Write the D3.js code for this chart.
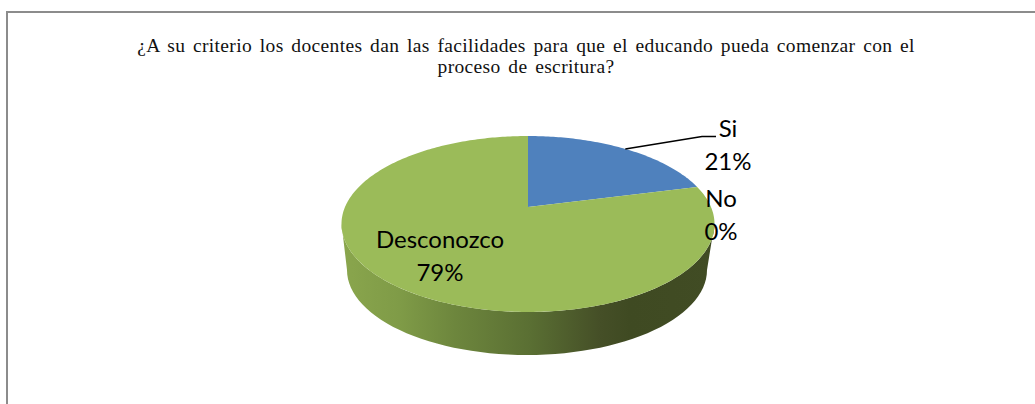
<!DOCTYPE html>
<html>
<head>
<meta charset="utf-8">
<script src="https://cdn.jsdelivr.net/npm/d3@7"></script>
<style>
  html, body { margin: 0; padding: 0; background: #fff; }
  svg { display: block; }
</style>
</head>
<body>
<script>
/* ---------------------------- */
/* DATA                         */
/* ---------------------------- */

const categories = ["Si", "No", "Desconozco"];
const values = [21, 0, 79];
const colors = ["#4f81bd", "#c0504d", "#9bbb59"];
const titleLines = [
    "¿A su criterio los docentes dan las facilidades para que el educando pueda comenzar con el",
    "proceso de escritura?"
];

/* ---------------------------- */
/* CANVAS                       */
/* ---------------------------- */

const w = 1035, h = 404;

let svg = d3.select("body").append("svg")
    .attr("width", w)
    .attr("height", h);

// Frame: only left and top are inside the crop
svg.append("path")
    .attr("d", "M7,404V12H1035")
    .attr("fill", "none")
    .attr("stroke", "#8c8c8c")
    .attr("stroke-width", 2);

svg.selectAll(".title")
    .data(titleLines)
    .enter()
    .append("text")
        .attr("class", "title")
        .attr("x", 526)
        .attr("y", (d, i) => 51.5 + i * 21.7)
        .attr("text-anchor", "middle")
        .attr("font-family", "'Liberation Serif'")
        .attr("font-size", "19.5px")
        .attr("letter-spacing", "0.35px")
        .attr("word-spacing", "2.5px")
        .attr("fill", "#111")
        .text((d) => d);

/* ---------------------------- */
/* PIE                          */
/* ---------------------------- */

// Scales from the unit disc to the page, the depth of the tilted disc comes from k
const k = 0.193;
const x = d3.scaleLinear().domain([-1, 1]).range([528 - 183, 528 + 183]);
const y = d3.scaleLinear().domain([-1, 1]).range([207 - 84.7, 207 + 84.7]);

function project(angle, r) {
    const ux = r * Math.sin(angle), uy = -r * Math.cos(angle);
    const d = 1 - k * uy;
    return [x(ux / d), y(uy / d)];
}

const arcs = d3.pie().sort(null).value((d) => d)(values);
const line = d3.line();

function slicePath(a) {
    if (a.endAngle - a.startAngle === 0) return null;
    const n = Math.ceil((a.endAngle - a.startAngle) * 60);
    const pts = d3.range(n + 1).map((i) => project(a.startAngle + (a.endAngle - a.startAngle) * i / n, 1));
    return line([project(0, 0), ...pts]) + "Z";
}

// Side wall, gradient runs left to right across the front
const defs = svg.append("defs");
const wallGrad = defs.append("linearGradient")
    .attr("id", "wall")
    .attr("gradientUnits", "userSpaceOnUse")
    .attr("x1", 341).attr("x2", 714).attr("y1", 0).attr("y2", 0);
[[0, "#8aa64d"], [0.158, "#7f9b47"], [0.306, "#6d863d"], [0.507, "#5a6f33"], [0.694, "#454f27"], [0.775, "#3f4a22"], [1, "#414c24"]]
    .forEach((s) => wallGrad.append("stop").attr("offset", s[0]).attr("stop-color", s[1]));

// Lower rim of the disc
const lowerX = d3.scaleLinear().domain([-1, 1]).range([527 - 180, 527 + 180]);
const lowerY = d3.scaleLinear().domain([-1, 1]).range([270 - 85, 270 + 85]);
const front = d3.range(0, 61).map((i) => Math.PI * i / 60);
const upper = d3.range(0, 121).map((i) => project(Math.PI * 0.56 + Math.PI * 0.88 * i / 120, 1));
const lower = front.map((t) => [lowerX(Math.cos(t)), lowerY(Math.sin(t))]);

svg.append("path")
    .attr("d", line([...upper, ...lower.reverse()]) + "Z")
    .attr("fill", "url(#wall)");

svg.selectAll(".slice")
    .data(arcs)
    .enter()
    .append("path")
        .attr("class", "slice")
        .attr("d", slicePath)
        .attr("fill", (d, i) => colors[i]);

/* ---------------------------- */
/* LABELS                       */
/* ---------------------------- */

const labelX = [728, 721, 440];
const labelY = [137, 207, 248];

categories.forEach((c, i) => {
    [c, values[i] + "%"].forEach((t, j) => {
        svg.append("text")
            .attr("x", labelX[i])
            .attr("y", labelY[i] + j * 33)
            .attr("text-anchor", "middle")
            .attr("font-family", "Lato")
            .attr("font-size", "24px")
            .attr("fill", "#000")
            .text(t);
    });
});

// Leader from the Si slice to its label
const p = project(arcs[0].startAngle + (arcs[0].endAngle - arcs[0].startAngle) / 2, 1);
svg.append("path")
    .attr("d", line([p, [702, 136.5], [716, 136.5]]))
    .attr("fill", "none")
    .attr("stroke", "#000")
    .attr("stroke-width", 1.5);
</script>
</body>
</html>
